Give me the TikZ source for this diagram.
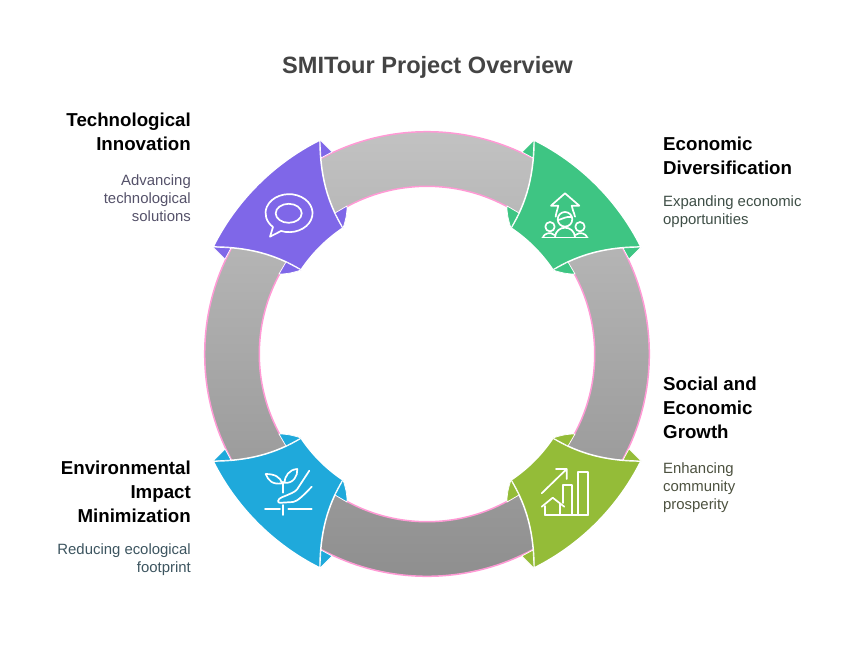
\documentclass[tikz,border=0pt]{standalone}
\usepackage{fontspec}
\setmainfont{Liberation Sans}
\definecolor{cpurple}{HTML}{7F67E8}
\definecolor{cgreen}{HTML}{3EC583}
\definecolor{colive}{HTML}{94BC38}
\definecolor{cblue}{HTML}{1FA9DB}
\definecolor{cpink}{HTML}{FF9AD5}
\definecolor{ctitle}{HTML}{444444}
\definecolor{dpurple}{HTML}{55526A}
\definecolor{dgreen}{HTML}{3F4F47}
\definecolor{dolive}{HTML}{4D5240}
\definecolor{dblue}{HTML}{3D5560}
\tikzset{
  titletext/.style={inner sep=0pt,text=ctitle,font=\fontsize{23.6}{28}\selectfont\bfseries},
  headleft/.style={inner sep=0pt,anchor=north east,align=right,text=black,font=\fontsize{18.7}{24}\selectfont\bfseries},
  headright/.style={inner sep=0pt,anchor=north west,align=left,text=black,font=\fontsize{18.7}{24}\selectfont\bfseries},
  descleft/.style={inner sep=0pt,anchor=north east,align=right,font=\fontsize{14.9}{18}\selectfont},
  descright/.style={inner sep=0pt,anchor=north west,align=left,font=\fontsize{14.9}{18}\selectfont},
  petal/.style={fill=#1,draw=white,line width=1.5pt,line join=round},
  fin/.style={fill=#1,draw=white,line width=0.7pt,line join=round},
  icon/.style={draw=white,line width=1.7pt,line cap=round,line join=round},
}
\newcommand{\petalshape}[1]{%
  \path[petal=#1] (-107,-214) arc[start angle=-116.57,end angle=-153.43,radius=239.25]
    .. controls (-180,-107) and (-152,-100) .. (-126,-84)
    arc[start angle=-146.31,end angle=-123.69,radius=151.43]
    .. controls (-100,-152) and (-107,-180) .. (-107,-214) -- cycle;
  \path[fin=#1] (-107,-214) -- (-95,-202) -- (-106,-196) -- cycle;
  \path[fin=#1] (-84,-126) .. controls (-81,-135) and (-80,-140) .. (-80,-148) -- (-92,-141) -- cycle;
  \path[fin=#1] (-214,-107) -- (-202,-95) -- (-196,-106) -- cycle;
  \path[fin=#1] (-126,-84) .. controls (-135,-81) and (-140,-80) .. (-148,-80) -- (-141,-92) -- cycle;
}
\begin{document}
\begin{tikzpicture}[x=1pt,y=1pt,yscale=-1]
\useasboundingbox (0,0) rectangle (854,651);
\fill[white] (0,0) rectangle (854,651);
% ring
\shade[even odd rule,top color=black!24,bottom color=black!44] (427,354) circle[radius=222] (427,354) circle[radius=168];
\draw[cpink,line width=1.5pt] (427,354) circle[radius=222.3] (427,354) circle[radius=167.7];
% petals
\begin{scope}[shift={(427,354)}]\petalshape{cpurple}\end{scope}
\begin{scope}[shift={(427,354)},xscale=-1]\petalshape{cgreen}\end{scope}
\begin{scope}[shift={(427,354)},yscale=-1]\petalshape{cblue}\end{scope}
\begin{scope}[shift={(427,354)},xscale=-1,yscale=-1]\petalshape{colive}\end{scope}
% speech icon
\draw[icon] (273,227) -- (270,236.7) -- (281,231) arc[start angle=110,end angle=-227,x radius=23.5,y radius=19];
\draw[icon] (288.7,213.3) ellipse[x radius=13,y radius=9.5];
% growth-people icon
\draw[icon] (542.3,237.5) -- (587.7,237.5);
\draw[icon] (555.7,216.7) .. controls (556,212) and (558,209) .. (558.3,205.7) -- (551,205.7) -- (565,193.3) -- (579.3,205.7) -- (571.7,205.7) .. controls (572,209) and (574,212) .. (575,216.7);
\draw[icon] (565,219.3) circle[radius=7.3];
\draw[icon] (558.5,220) .. controls (562,219) and (567,216) .. (571.5,217);
\draw[icon] (555,237) .. controls (555.5,231) and (560,227.7) .. (565,227.7) .. controls (570,227.7) and (574.5,231) .. (575,237);
\draw[icon] (550,226.7) circle[radius=4.7] (580,226.7) circle[radius=4.7];
\draw[icon] (543,237) .. controls (544,234) and (550,231) .. (554.5,235);
\draw[icon] (587,237) .. controls (586,234) and (580,231) .. (575.5,235);
% plant icon
\draw[icon] (265,509.3) -- (280,509.3) (288.3,509.3) -- (311.7,509.3) (283.3,505) -- (283.3,515);
\draw[icon] (283.3,492.7) -- (283.3,481.7);
\draw[icon] (282.3,483.3) .. controls (280,477) and (275,474) .. (265.7,474) .. controls (268,480) and (272,485) .. (282.3,483.3);
\draw[icon] (284.3,482.7) .. controls (285,476) and (289,469.5) .. (297.3,469) .. controls (298,476) and (293,484) .. (284.3,482.7);
\draw[icon] (309.3,470.7) -- (297,489.5) .. controls (295,492) and (290,494) .. (281.7,497.3) .. controls (277.5,499) and (277,503) .. (280,502.8) -- (293,502) .. controls (297,501.5) and (303,496) .. (311.7,486.7);
% growth-home icon
\draw[icon] (541.7,493.3) -- (566.7,469) (556,469) -- (566.7,469) -- (566.7,479);
\draw[icon] (578.3,515) -- (578.3,471.7) -- (587.7,471.7) -- (587.7,515);
\draw[icon] (562.7,503) -- (562.7,485) -- (571.7,485) -- (571.7,515);
\draw[icon] (545,515) -- (588,515);
\draw[icon] (541.7,506.7) -- (552.7,497.7) -- (564.3,506.7);
\draw[icon] (545,506) -- (545,515) (560,504) -- (560,515);
% texts
\node[titletext] (title) at (427.5,67.5) {SMITour Project Overview};
\node[headleft] (h1) at (191,113) {Technological\\Innovation};
\node[descleft,text=dpurple] (d1) at (191,174) {Advancing\\technological\\solutions};
\node[headright] (h2) at (663,137) {Economic\\Diversification};
\node[descright,text=dgreen] (d2) at (663,195) {Expanding economic\\opportunities};
\node[headright] (h3) at (663,377) {Social and\\Economic\\Growth};
\node[descright,text=dolive] (d3) at (663,462) {Enhancing\\community\\prosperity};
\node[headleft] (h4) at (191,461) {Environmental\\Impact\\Minimization};
\node[descleft,text=dblue] (d4) at (191,543) {Reducing ecological\\footprint};
\end{tikzpicture}
\end{document}
